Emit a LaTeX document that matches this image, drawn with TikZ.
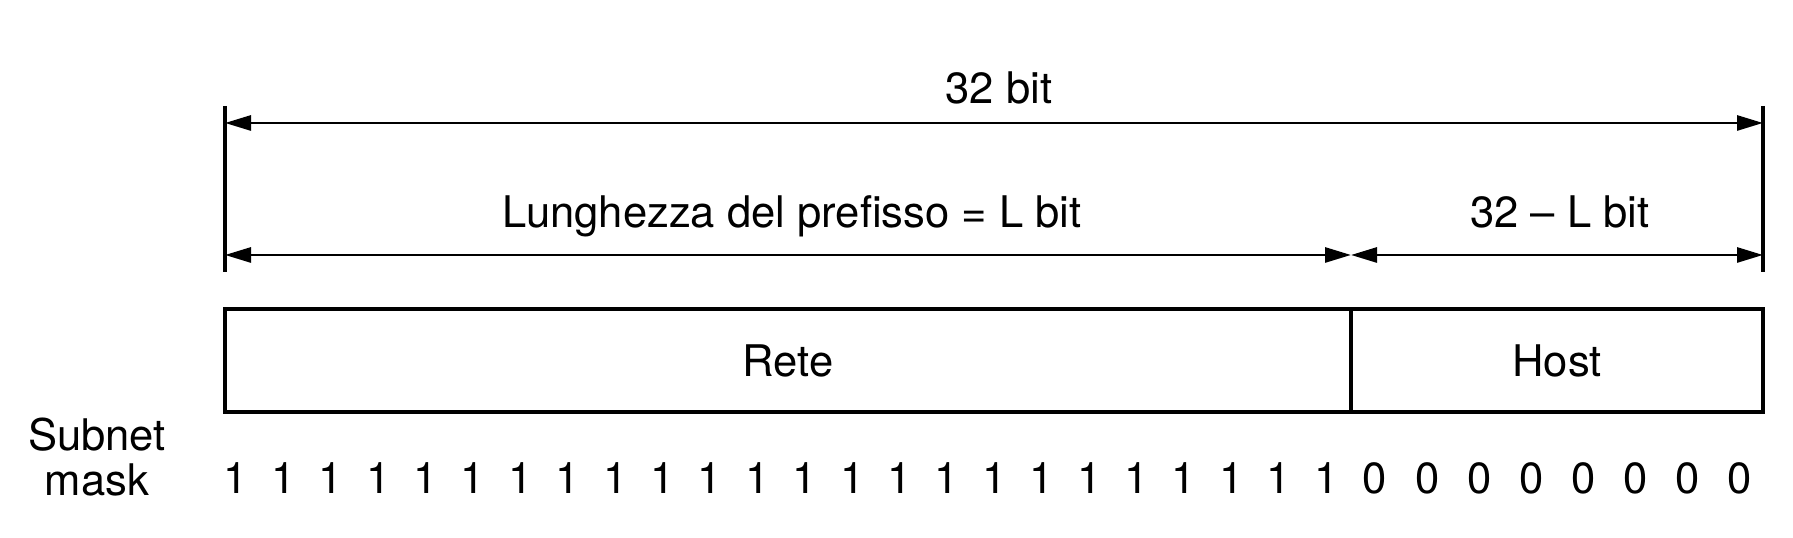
\documentclass[tikz,border=0pt]{standalone}
\usepackage{fontspec}
\setmainfont{TeX Gyre Heros}
\usepackage{tikz}
\usetikzlibrary{positioning}
\usetikzlibrary{arrows.meta}

\tikzset{
	labeltext/.style={font=\fontsize{12.4}{13}\selectfont, inner sep=0pt},
	dimline/.style={line width=0.8pt, {Triangle[length=2.6mm,width=1.5mm]}-{Triangle[length=2.6mm,width=1.5mm]}},
	tickline/.style={line width=0.9pt},
	field/.style={draw, line width=0.9pt, outer sep=0pt, minimum height=1.03cm, labeltext},
}

\begin{document}
\begin{tikzpicture}

	\useasboundingbox (0,0) rectangle (17.93,5.38);

	% ---------------------
	% Ticks
	\coordinate (LeftTop)     at (2.25,4.32);
	\coordinate (LeftBottom)  at (2.25,2.66);
	\coordinate (RightTop)    at (17.63,4.32);
	\coordinate (RightBottom) at (17.63,2.66);

	\draw[tickline] (LeftTop) -- (LeftBottom);
	\draw[tickline] (RightTop) -- (RightBottom);

	% ---------------------
	% Dimension arrows
	\coordinate (TotalLeft)  at (2.25,4.15);
	\coordinate (TotalRight) at (17.63,4.15);

	\coordinate (PrefixLeft) at (2.25,2.83);
	\coordinate (Split)      at (13.51,2.83);
	\coordinate (HostRight)  at (17.63,2.83);

	\draw[dimline] (TotalLeft) -- node[labeltext, anchor=base, xshift=0.5mm, yshift=1.9mm] (totalbits) {32 bit} (TotalRight);
	\draw[dimline] (PrefixLeft) -- node[labeltext, anchor=base, xshift=0.4mm, yshift=2.7mm] (prefixbits) {Lunghezza del prefisso = L bit} (Split);
	\draw[dimline] (Split) -- node[labeltext, anchor=base, xshift=0.3mm, yshift=2.7mm] (hostbits) {32 -- L bit} (HostRight);

	% ---------------------
	% Address fields
	\node[field, anchor=north west, minimum width=11.26cm] (rete) at (2.25,2.29) {Rete};
	\node[field, anchor=west, minimum width=4.12cm] (host) at (rete.east) {Host};

	% ---------------------
	% Subnet mask
	\node[labeltext, align=center, anchor=north] (subnetmask) at (0.97,1.21) {Subnet\\mask};

	\foreach \i in {1,...,24}{
		\node[labeltext, anchor=base] (one-\i) at ({2.36+(\i-1)*0.474},0.44) {1};
	}
	\foreach \i in {1,...,8}{
		\node[labeltext, anchor=base] (zero-\i) at ({13.75+(\i-1)*0.521},0.44) {0};
	}

\end{tikzpicture}
\end{document}
